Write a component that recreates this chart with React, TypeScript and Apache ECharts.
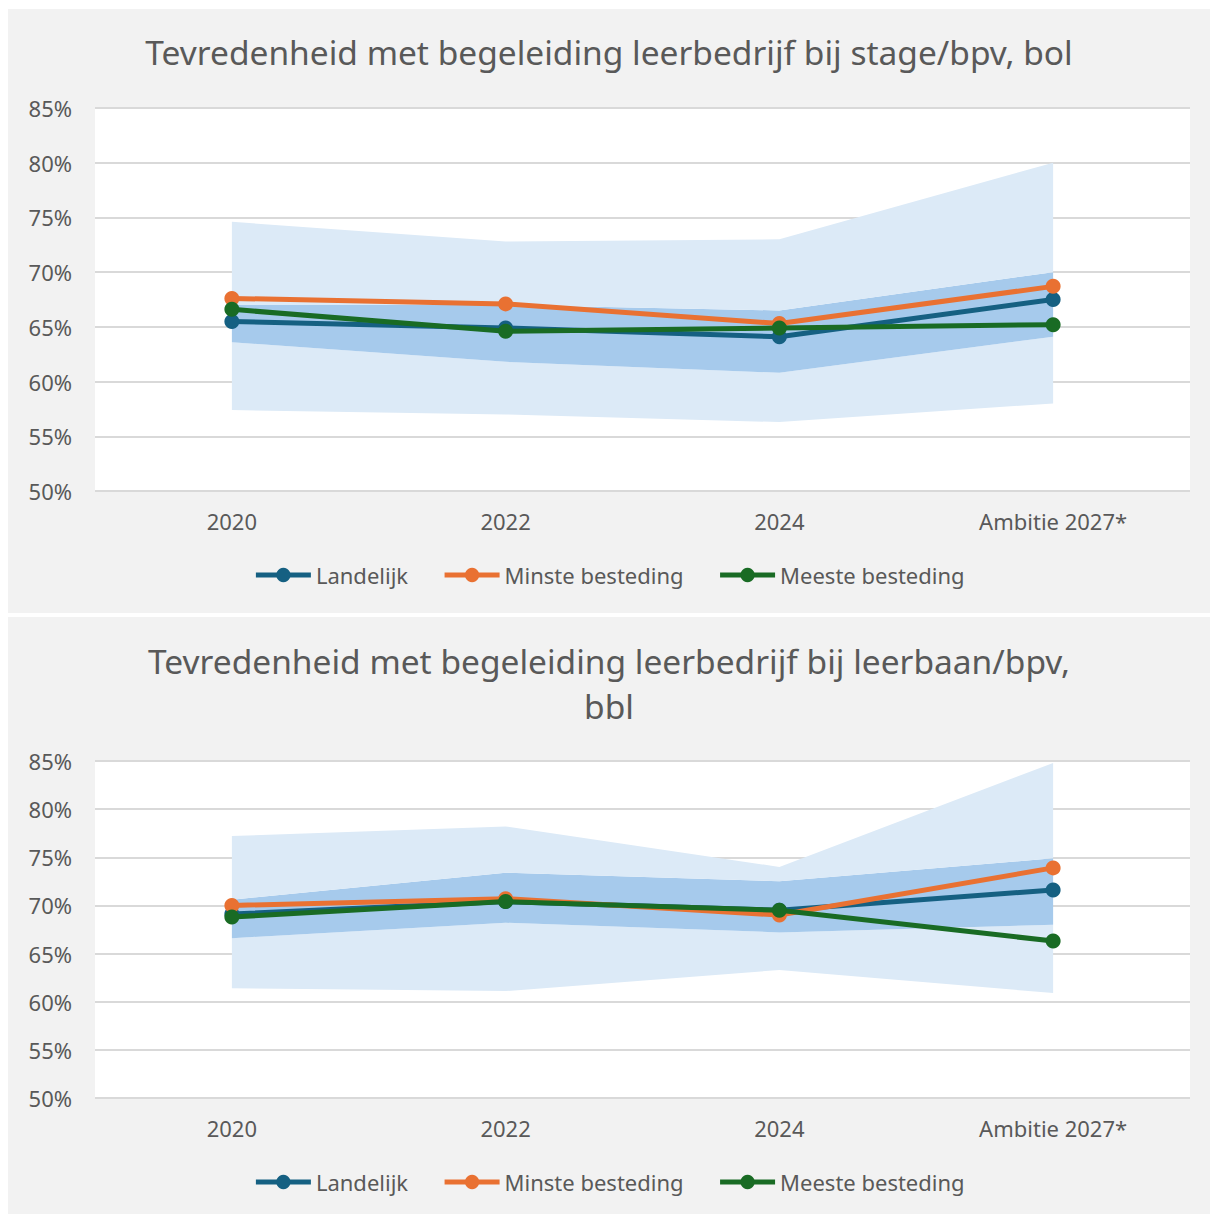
import React, { useEffect, useRef } from "react";
import * as echarts from "echarts";

const categories = ["2020", "2022", "2024", "Ambitie 2027*"];
const yTicksMin = 50;
const yTicksMax = 85;
const yTickStep = 5;

const seriesNames = ["Landelijk", "Minste besteding", "Meeste besteding"];

// Chart 1: bol
const bolLandelijk = [65.5, 64.9, 64.1, 67.5];
const bolMinste = [67.6, 67.1, 65.3, 68.7];
const bolMeeste = [66.6, 64.6, 64.9, 65.2];
const bolOuterLow = [57.4, 57.0, 56.3, 58.0];
const bolInnerLow = [63.6, 61.8, 60.8, 64.1];
const bolInnerHigh = [67.0, 67.0, 66.5, 70.0];
const bolOuterHigh = [74.6, 72.8, 73.0, 80.0];

// Chart 2: bbl
const bblLandelijk = [69.1, 70.4, 69.5, 71.6];
const bblMinste = [70.0, 70.7, 69.0, 73.9];
const bblMeeste = [68.8, 70.4, 69.5, 66.3];
const bblOuterLow = [61.4, 61.1, 63.3, 60.9];
const bblInnerLow = [66.6, 68.2, 67.2, 68.0];
const bblInnerHigh = [70.6, 73.4, 72.5, 74.9];
const bblOuterHigh = [77.2, 78.2, 74.0, 84.8];

const FONT = "Noto Sans";
const TEXT = "#595959";
const COLORS = ["#156082", "#E97132", "#196B24"];
const LIGHT_BAND = "#DCEAF7";
const DARK_BAND = "#A6CAEC";

function diff(a: number[], b: number[]) {
  return a.map((v, i) => +(v - b[i]).toFixed(2));
}

function buildOption(
  title: string,
  titleTop: number,
  gridTop: number,
  gridBottom: number,
  legendTop: number,
  lines: number[][],
  outerLow: number[],
  innerLow: number[],
  innerHigh: number[],
  outerHigh: number[]
) {
  const band = (name: string, data: number[], color: string | null) => ({
    name,
    type: "line",
    stack: "band",
    data,
    symbol: "none",
    silent: true,
    lineStyle: { width: 0, opacity: 0 },
    areaStyle: color ? { color, opacity: 1 } : undefined,
    z: 1,
  });
  return {
    animation: false,
    backgroundColor: "#f2f2f2",
    title: {
      text: title,
      left: "center",
      top: titleTop,
      textStyle: {
        fontFamily: FONT,
        fontSize: 33.5,
        fontWeight: "normal",
        color: TEXT,
        lineHeight: 45,
      },
    },
    legend: {
      data: seriesNames,
      top: legendTop,
      left: "center",
      itemWidth: 55,
      itemHeight: 18,
      itemGap: 34,
      padding: 0,
      lineStyle: { width: 5 },
      textStyle: { fontFamily: FONT, fontSize: 22, color: TEXT },
    },
    grid: {
      left: 87,
      right: 20,
      top: gridTop,
      bottom: gridBottom,
      show: true,
      backgroundColor: "#ffffff",
      borderWidth: 0,
    },
    xAxis: {
      type: "category",
      data: categories,
      boundaryGap: true,
      axisLine: { show: false },
      axisTick: { show: false },
      axisLabel: {
        fontFamily: FONT,
        fontSize: 22,
        color: TEXT,
        margin: 19,
      },
    },
    yAxis: {
      type: "value",
      min: yTicksMin,
      max: yTicksMax,
      interval: yTickStep,
      axisLine: { show: false },
      axisTick: { show: false },
      splitLine: { lineStyle: { color: "#d9d9d9", width: 2 } },
      axisLabel: {
        fontFamily: FONT,
        fontSize: 22,
        color: TEXT,
        margin: 23,
        formatter: "{value}%",
      },
    },
    series: [
      band("base", outerLow, null),
      band("outerLowBand", diff(innerLow, outerLow), LIGHT_BAND),
      band("innerBand", diff(innerHigh, innerLow), DARK_BAND),
      band("outerHighBand", diff(outerHigh, innerHigh), LIGHT_BAND),
      ...lines.map((data, i) => ({
        name: seriesNames[i],
        type: "line",
        data,
        symbol: "circle",
        symbolSize: 15,
        color: COLORS[i],
        lineStyle: { width: 5, color: COLORS[i] },
        itemStyle: { color: COLORS[i] },
        z: 3 + i,
      })),
    ],
  };
}

function Chart({ option, style }: { option: any; style: React.CSSProperties }) {
  const ref = useRef<HTMLDivElement>(null);
  useEffect(() => {
    if (!ref.current) return;
    const chart = echarts.init(ref.current, undefined, { renderer: "svg" });
    chart.setOption(option);
    return () => chart.dispose();
  }, [option]);
  return <div ref={ref} style={style} />;
}

const option1 = buildOption(
  "Tevredenheid met begeleiding leerbedrijf bij stage/bpv, bol",
  15,
  99,
  122,
  555,
  [bolLandelijk, bolMinste, bolMeeste],
  bolOuterLow,
  bolInnerLow,
  bolInnerHigh,
  bolOuterHigh
);

const option2 = buildOption(
  "Tevredenheid met begeleiding leerbedrijf bij leerbaan/bpv,\nbbl",
  16,
  144,
  116,
  554,
  [bblLandelijk, bblMinste, bblMeeste],
  bblOuterLow,
  bblInnerLow,
  bblInnerHigh,
  bblOuterHigh
);

export default function App() {
  return (
    <div
      style={{
        position: "fixed",
        left: 0,
        top: 0,
        width: 1210,
        height: 1214,
        overflow: "hidden",
        background: "#ffffff",
      }}
    >
      <Chart
        option={option1}
        style={{ position: "absolute", left: 8, top: 9, width: 1202, height: 604 }}
      />
      <Chart
        option={option2}
        style={{ position: "absolute", left: 8, top: 617, width: 1202, height: 597 }}
      />
    </div>
  );
}
